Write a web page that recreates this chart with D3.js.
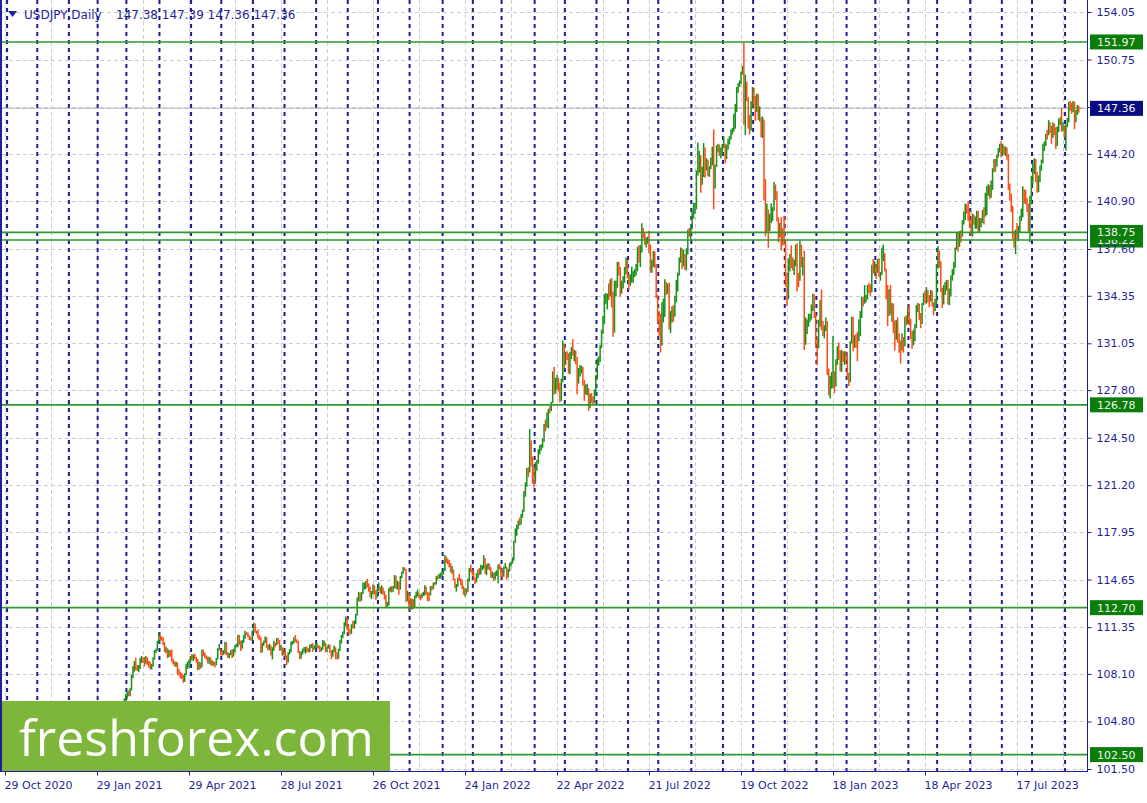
<!DOCTYPE html>
<html><head><meta charset="utf-8">
<script src="https://cdn.jsdelivr.net/npm/d3@7"></script>
<style>body{margin:0;background:#fff}svg{display:block}</style>
</head><body>
<svg id="c" width="1147" height="803"></svg>
<script>
// ---- DATA: daily bars [high, low, close]; open = previous close ----
const firstOpen = 104.30;
const bars2020 = [
[104.70,104.08,104.61],[104.85,104.45,104.66],
[104.95,104.55,104.73],[104.95,104.42,104.52],[105.34,104.15,104.53],[104.60,103.42,103.48],[103.75,103.18,103.35],
[105.65,103.25,105.36],[105.48,104.85,105.29],[105.68,105.12,105.42],[105.50,104.86,105.13],[105.14,104.55,104.62],
[104.89,104.30,104.59],[104.70,104.08,104.19],[104.25,103.65,103.85],[103.95,103.62,103.80],[103.95,103.68,103.85],
[104.64,103.72,104.55],[104.77,104.35,104.44],[104.58,104.28,104.45],[104.48,104.15,104.22],[104.28,103.90,104.08],
[104.40,103.82,104.30],
[104.58,104.20,104.33],[104.52,104.30,104.43],[104.48,103.70,103.87],[104.22,103.80,104.16],
[104.20,103.88,104.03],[104.30,103.95,104.18],[104.48,104.05,104.20],[104.38,103.98,104.26],[104.30,103.92,104.03],
[104.18,103.90,104.05],[104.12,103.58,103.66],[103.78,103.38,103.49],[103.55,102.88,103.07],[103.45,102.95,103.30],
[103.90,103.18,103.32],[103.72,103.25,103.60],[103.80,103.45,103.63],[103.70,103.50,103.62],
[103.90,103.55,103.79],[103.82,103.45,103.52],[103.58,103.12,103.21],[103.35,102.95,103.25]
];
const bars2021 = [
// Jan
[103.30,102.72,103.12],[103.20,102.60,102.71],[103.44,102.59,103.03],[103.95,102.98,103.83],[104.08,103.60,103.94],
[104.40,103.70,104.25],[104.30,103.52,103.76],[103.95,103.60,103.88],[104.00,103.72,103.86],[104.08,103.70,103.86],
[103.90,103.50,103.70],[104.05,103.62,103.87],[103.95,103.48,103.54],[103.75,103.35,103.50],[103.85,103.45,103.77],
[103.85,103.55,103.76],[103.85,103.50,103.61],[104.12,103.58,104.08],[104.30,103.92,104.25],[104.90,104.18,104.68],
// Feb
[105.00,104.60,104.95],[105.08,104.80,105.00],[105.10,104.82,105.03],[105.60,105.00,105.55],[105.76,105.20,105.40],
[105.68,105.20,105.22],[105.30,104.58,104.59],[104.75,104.40,104.58],[105.00,104.52,104.95],[105.00,104.75,104.94],
[105.45,104.90,105.42],[106.22,105.40,105.98],[106.00,105.68,105.85],[105.95,105.55,105.67],[105.78,105.30,105.45],
[105.50,104.92,105.06],[105.40,104.98,105.27],[105.90,105.25,105.87],[106.40,105.85,106.25],[106.70,106.10,106.57],
// Mar
[106.90,106.45,106.77],[106.95,106.55,106.68],[107.10,106.55,107.03],[108.05,106.95,107.96],[108.65,107.80,108.37],
[109.00,108.25,108.91],[109.22,108.35,108.53],[108.70,108.30,108.38],[108.72,108.22,108.51],[109.22,108.45,109.02],
[109.35,108.85,109.13],[109.25,108.85,108.99],[109.28,108.62,108.84],[109.35,108.80,109.13],[109.25,108.72,108.86],
[109.00,108.55,108.81],[108.95,108.42,108.59],[108.80,108.40,108.71],[109.25,108.60,109.21],[109.75,109.10,109.64],
[109.85,109.55,109.78],[110.40,109.70,110.36],[110.97,110.25,110.72],
// Apr
[110.78,110.45,110.63],[110.70,110.40,110.61],
[110.65,110.10,110.19],[110.30,109.62,109.73],[109.98,109.55,109.84],[109.88,109.20,109.27],[109.78,109.25,109.66],
[109.75,109.30,109.39],[109.80,108.95,109.07],[109.15,108.75,108.91],[108.98,108.60,108.77],[108.95,108.60,108.79],
[108.90,108.05,108.16],[108.45,107.98,108.09],[108.25,107.80,108.08],[108.15,107.75,107.96],[108.05,107.48,107.89],
[108.15,107.55,108.12],[108.80,108.00,108.69],[108.95,108.45,108.90],[109.08,108.55,108.92],[109.35,108.82,109.31],
// May
[109.50,109.05,109.11],[109.45,109.00,109.36],[109.50,109.12,109.21],[109.30,108.90,108.97],[109.15,108.35,108.58],
[108.95,108.40,108.81],[108.90,108.45,108.62],[109.80,108.55,109.68],[109.78,109.35,109.47],[109.58,109.20,109.35],
[109.40,109.10,109.23],[109.30,108.82,108.91],[109.30,108.80,109.21],[109.25,108.72,108.77],[109.05,108.65,108.96],
[108.98,108.68,108.77],[108.92,108.55,108.74],[109.22,108.70,109.16],[109.88,109.10,109.82],[110.20,109.75,109.85],
[109.85,109.40,109.55],
// Jun
[109.70,109.35,109.50],[109.75,109.42,109.57],[110.33,109.50,110.28],[110.30,109.40,109.52],
[109.62,109.20,109.25],[109.55,109.20,109.47],[109.75,109.40,109.63],[109.82,109.20,109.33],[109.85,109.30,109.67],
[110.10,109.60,110.05],[110.20,109.95,110.07],[110.82,109.95,110.71],[110.80,110.12,110.22],[110.40,109.70,110.20],
[110.45,109.85,110.31],[110.80,110.25,110.65],[111.10,110.55,110.97],[111.00,110.80,110.88],[110.98,110.65,110.75],
[110.80,110.45,110.62],[110.65,110.40,110.51],[111.12,110.45,111.10],
// Jul
[111.66,111.00,111.53],[111.60,110.95,111.05],
[111.10,110.85,110.95],[111.18,110.55,110.65],[110.80,110.45,110.63],[110.65,109.55,109.78],[110.25,109.60,110.14],
[110.40,110.05,110.33],[110.70,110.25,110.61],[110.65,109.90,109.97],[110.15,109.72,109.84],[110.20,109.75,110.07],
[110.05,109.38,109.44],[109.95,109.10,109.83],[110.40,109.70,110.26],[110.25,109.95,110.16],[110.60,110.10,110.55],
[110.60,110.20,110.39],[110.45,109.70,109.80],[110.10,109.72,109.91],[109.95,109.35,109.48],[109.78,109.40,109.71],
// Aug
[109.75,109.20,109.31],[109.40,108.72,109.04],[109.60,108.90,109.50],[109.82,109.45,109.77],[110.35,109.60,110.24],
[110.40,110.12,110.28],[110.65,110.22,110.58],[110.80,110.32,110.42],[110.50,110.25,110.39],[110.40,109.55,109.59],
[109.70,109.12,109.23],[109.65,109.15,109.59],[109.85,109.45,109.77],[109.95,109.62,109.78],[109.98,109.50,109.78],
[110.00,109.60,109.74],[109.90,109.60,109.68],[110.12,109.60,110.01],[110.18,109.90,110.08],[110.25,109.62,109.84],
[110.08,109.78,109.92],[110.20,109.85,110.02],
// Sep
[110.25,109.90,110.03],[110.10,109.85,109.92],[110.05,109.60,109.72],
[109.95,109.68,109.85],[110.45,109.78,110.26],[110.40,110.00,110.26],[110.25,109.60,109.70],[110.00,109.62,109.93],
[110.15,109.85,110.02],[110.15,109.55,109.69],[109.75,109.12,109.38],[109.80,109.30,109.71],[110.08,109.60,109.94],
[109.95,109.12,109.40],[109.60,109.10,109.24],[109.85,109.15,109.78],[110.45,109.70,110.35],[110.80,110.20,110.74],
[111.05,110.60,110.98],[111.68,110.85,111.50],[112.08,111.40,111.97],[112.00,111.15,111.29],
// Oct
[111.50,110.85,111.05],
[111.20,110.82,110.93],[111.55,110.88,111.44],[111.78,111.25,111.41],[111.82,111.25,111.61],[112.28,111.55,112.24],
[113.40,112.15,113.28],[113.80,113.15,113.60],[113.75,113.10,113.25],[113.78,113.18,113.69],[114.45,113.65,114.22],
[114.45,113.95,114.31],[114.55,114.00,114.35],[114.69,114.10,114.30],[114.38,113.80,113.97],[114.15,113.42,113.48],
[113.85,113.30,113.70],[114.30,113.62,114.14],[114.25,113.62,113.80],[113.90,113.25,113.58],[114.05,113.40,113.96],
// Nov
[114.45,113.85,114.01],[114.15,113.70,113.95],[114.25,113.65,114.09],[114.10,113.60,113.75],[113.85,113.28,113.40],
[113.60,112.75,112.87],[113.10,112.72,112.95],[114.05,112.85,113.93],[114.15,113.80,114.05],[114.20,113.75,113.88],
[114.20,113.80,114.13],[114.97,114.05,114.82],[114.92,114.00,114.08],[114.55,113.95,114.24],[114.50,113.60,114.01],
[114.90,113.95,114.84],[115.20,114.75,115.13],[115.52,115.05,115.39],[115.48,115.25,115.36],[115.35,113.08,113.38],
[113.88,113.15,113.50],[113.70,112.53,113.17],
// Dec
[113.40,112.70,112.79],[113.30,112.55,113.15],[113.30,112.60,112.79],
[113.55,112.75,113.46],[113.80,113.35,113.52],[113.95,113.48,113.66],[113.75,113.35,113.49],[113.60,113.20,113.41],
[113.70,113.35,113.56],[113.80,113.50,113.73],[114.25,113.55,114.06],[114.15,113.60,113.71],[113.80,113.15,113.69],
[113.75,113.15,113.62],[114.20,113.55,114.11],[114.22,113.90,114.08],[114.45,113.98,114.41],[114.48,114.25,114.38],
[114.88,114.30,114.84],[114.95,114.65,114.82],[115.05,114.70,114.98],[115.12,114.72,115.07],[115.20,114.90,115.08]
];
const bars2022 = [
// Jan
[115.45,115.00,115.31],[116.35,115.25,116.13],[116.25,115.80,116.12],[116.12,115.72,115.84],[116.00,115.50,115.57],
[115.80,115.15,115.19],[115.60,115.05,115.31],[115.35,114.60,114.66],[114.72,114.05,114.19],[114.35,113.82,114.19],
[114.80,114.15,114.61],[115.05,114.55,114.59],[114.75,114.25,114.31],[114.65,114.00,114.11],[114.20,113.60,113.68],
[114.05,113.47,113.98],[114.05,113.60,113.87],[114.72,113.80,114.66],[115.45,114.50,115.36],[115.68,115.15,115.26],
[115.35,114.95,115.11],
// Feb
[115.20,114.60,114.69],[114.80,114.35,114.55],[115.10,114.45,114.96],[115.35,114.75,115.24],
[115.45,114.95,115.08],[115.68,115.00,115.56],[115.65,115.30,115.57],[116.34,115.40,116.01],[116.15,115.05,115.43],
[115.70,114.95,115.58],[115.80,115.35,115.69],[115.75,115.30,115.43],[115.50,114.80,114.92],[115.20,114.75,115.02],
[115.10,114.55,114.75],[115.20,114.65,115.03],[115.30,114.90,115.09],[115.70,114.40,115.58],[115.75,115.35,115.55],
[115.50,114.85,114.98],
// Mar
[115.20,114.65,114.93],[115.55,114.85,115.48],[115.80,115.40,115.51],[115.55,114.65,114.83],
[115.40,114.80,115.29],[115.80,115.20,115.71],[115.90,115.55,115.84],[116.20,115.75,116.12],[117.35,115.95,117.30],
[118.20,117.20,118.17],[118.45,117.70,118.29],[118.75,118.15,118.66],[118.95,118.40,118.60],[119.20,118.45,119.16],
[119.50,118.95,119.43],[120.80,119.35,120.53],[121.40,120.40,121.20],[122.40,121.10,122.30],[122.45,121.75,122.08],
[125.10,122.10,123.77],[124.30,122.50,122.90],[123.20,121.30,121.76],[122.45,121.05,121.68],
// Apr
[122.80,121.50,122.50],
[122.95,122.20,122.77],[123.70,122.70,123.59],[124.00,123.35,123.81],[124.05,123.60,123.96],[124.45,123.80,124.33],
[125.45,124.20,125.36],[125.75,124.95,125.35],[126.25,125.20,125.39],[126.50,125.15,126.41],[126.68,126.20,126.40],
[127.00,126.35,126.98],[129.10,126.90,128.89],[129.40,127.50,127.86],[128.65,127.55,128.39],[128.85,127.85,128.51],
[128.65,127.70,128.13],[128.30,126.95,127.24],[128.60,127.05,128.43],[131.25,128.35,130.78],[131.00,129.30,129.70],
// May
[130.30,129.55,130.18],[130.50,129.90,130.14],[130.35,128.95,129.07],[130.45,128.90,130.19],[130.80,129.95,130.56],
[131.35,130.20,130.27],[130.60,129.80,130.46],[130.55,129.60,129.95],[130.10,127.52,128.35],[129.35,128.25,129.18],
[129.55,128.75,129.18],[129.50,128.95,129.36],[129.40,128.10,128.24],[128.50,127.05,127.79],[128.20,127.50,127.88],
[128.25,127.45,127.88],[127.95,126.36,126.84],[127.55,126.55,127.30],[127.60,126.90,127.12],[127.35,126.80,127.09],
[127.85,126.90,127.64],[128.85,127.50,128.73],
// Jun
[130.00,128.60,129.87],[130.15,129.50,129.88],[130.95,129.75,130.87],
[132.00,130.70,131.92],[132.95,131.70,132.62],[134.45,132.40,134.23],[134.55,133.80,134.39],[134.50,133.40,134.40],
[135.20,134.05,134.39],[135.50,134.30,135.46],[135.59,133.55,134.00],[134.65,131.50,132.17],[135.40,131.80,135.02],
[135.40,134.30,135.06],[136.70,134.90,136.65],[136.72,135.75,136.22],[136.35,134.30,134.95],[135.40,134.50,135.22],
[135.70,134.85,135.43],[136.35,135.25,136.13],[137.00,135.85,136.62],[136.85,135.55,135.73],
// Jul
[135.80,134.75,135.21],
[135.85,135.05,135.68],[136.38,135.25,135.89],[136.05,135.25,135.93],[136.20,135.65,136.01],[136.55,135.75,136.10],
[137.75,136.05,137.42],[137.85,136.65,136.86],[137.87,136.35,137.42],[139.39,137.35,138.97],[139.05,138.35,138.55],
[138.70,137.90,138.15],[138.40,137.70,138.20],[138.45,137.95,138.22],[138.88,137.30,137.37],[137.90,135.95,136.08],
[136.85,135.95,136.67],[137.45,136.35,136.90],[137.45,136.30,136.53],[136.55,134.20,134.27],[134.40,132.50,133.23],
// Aug
[133.30,131.58,131.60],[133.10,130.41,131.05],[133.90,130.90,133.23],[134.15,132.50,133.87],[135.50,132.90,135.00],
[135.30,134.40,134.93],[135.20,134.50,135.04],[135.25,132.00,132.90],[133.30,131.75,133.00],[133.60,132.50,133.44],
[133.70,132.55,133.31],[134.35,132.90,134.21],[135.45,133.90,135.14],[135.95,134.65,135.89],[137.00,135.75,136.89],
[137.70,136.65,137.48],[137.65,136.20,136.76],[137.55,136.40,137.11],[137.25,136.15,136.52],[137.65,136.10,137.21],
[138.95,137.35,138.79],[139.05,138.45,138.72],[139.10,138.25,138.96],
// Sep
[140.25,138.95,140.20],[140.80,139.70,140.20],
[140.80,140.05,140.53],[143.05,140.35,142.80],[144.99,142.70,143.76],[144.40,142.90,144.10],[144.05,141.50,142.54],
[143.30,142.05,142.82],[144.95,142.60,144.60],[144.65,142.55,143.17],[143.90,143.05,143.47],[143.80,142.65,142.90],
[143.35,142.60,143.21],[143.95,143.15,143.74],[144.70,143.40,144.10],[145.90,140.35,142.37],[143.45,141.80,143.35],
[144.80,143.30,144.74],[144.90,144.30,144.82],[144.85,144.05,144.16],[144.65,143.90,144.46],[144.85,144.10,144.74],
// Oct
[145.40,144.60,144.83],[144.90,143.55,144.10],[144.85,143.85,144.62],[145.25,144.50,145.10],[145.45,144.85,145.35],
[145.90,145.20,145.73],[146.00,145.55,145.84],[146.98,145.75,146.94],[147.66,145.95,147.23],[148.85,147.10,148.69],
[149.10,148.45,148.98],[149.30,148.85,149.24],[149.90,149.05,149.88],[150.30,149.70,150.15],[151.94,146.23,147.66],
[149.71,145.51,149.01],[149.20,147.85,148.00],[148.15,145.95,146.33],[146.90,145.55,146.31],[147.85,145.80,147.46],
[148.85,147.35,148.71],
// Nov
[148.80,147.60,148.20],[148.25,146.50,147.93],[148.40,147.10,148.27],[148.35,146.55,146.63],
[147.50,146.45,146.63],[146.75,145.35,145.64],[146.80,145.30,146.40],[146.59,140.96,140.99],[142.45,138.47,138.80],
[140.75,138.80,139.93],[140.35,137.68,139.30],[140.05,138.85,139.52],[140.75,139.40,140.22],[140.50,139.55,140.33],
[142.25,140.25,142.08],[142.05,141.00,141.25],[141.60,139.50,139.57],[139.80,138.05,138.62],[139.40,138.40,139.15],
[139.80,137.50,138.89],[139.05,137.85,138.68],[139.90,137.90,138.06],
// Dec
[138.10,135.00,135.28],[135.95,133.63,134.31],
[136.95,134.10,136.73],[137.25,136.05,137.00],[137.85,136.25,136.60],[137.00,136.10,136.56],[136.85,135.80,136.64],
[137.90,136.40,137.73],[138.00,134.65,135.60],[135.95,134.95,135.47],[138.18,135.40,137.77],[137.90,136.35,136.66],
[137.05,135.75,136.88],[137.48,130.58,131.73],[132.85,130.95,132.38],[132.70,131.70,132.47],[133.10,132.20,132.87],
[133.10,132.55,132.90],[133.75,132.70,133.52],[134.50,133.30,134.42],[134.45,132.80,133.07],[133.10,130.95,131.11]
];
const bars2023 = [
// Jan
[131.35,129.52,131.00],[132.70,130.70,132.44],[134.05,132.20,133.40],[134.78,131.95,132.09],
[132.60,131.55,131.88],[132.30,131.40,132.27],[132.85,131.90,132.45],[132.60,128.85,129.16],[129.30,127.45,127.88],
[128.80,127.22,128.52],[129.05,127.90,128.60],[131.58,127.95,128.90],[129.10,127.60,128.41],[129.95,128.05,129.60],
[130.85,129.55,130.68],[131.10,129.90,130.15],[130.55,129.10,129.19],[130.60,129.05,130.24],[130.50,129.75,129.86],
[130.50,129.55,130.35],[130.50,129.80,130.08],
// Feb
[130.20,128.65,128.93],[129.00,128.08,128.62],[131.20,128.35,131.19],
[132.90,131.05,132.62],[132.90,130.50,131.05],[131.60,130.75,131.43],[131.70,130.70,131.38],[131.85,129.80,131.37],
[132.70,131.20,132.40],[133.30,131.55,133.15],[134.30,132.80,134.12],[134.25,133.60,133.97],[135.10,133.80,134.15],
[134.40,133.90,134.25],[135.10,134.10,134.97],[135.25,134.55,134.90],[135.15,134.35,134.67],[136.50,134.60,136.48],
[136.90,135.90,136.21],[136.75,135.95,136.22],
// Mar
[136.55,135.50,136.16],[136.90,135.95,136.77],[136.95,135.65,135.86],
[136.00,135.40,135.90],[137.70,135.80,137.12],[137.91,136.75,137.27],[137.30,136.05,136.11],[136.25,134.10,134.98],
[135.10,132.25,133.21],[134.80,132.95,134.22],[135.10,133.05,133.42],[133.85,132.55,133.71],[133.80,131.75,131.87],
[132.65,130.55,131.32],[132.65,131.30,132.47],[132.85,131.10,131.43],[131.75,130.40,130.86],[131.25,129.64,130.72],
[131.75,130.55,131.47],[131.50,130.40,130.89],[132.90,130.85,132.86],[133.00,132.30,132.70],[133.50,132.40,132.79],
// Apr
[133.75,132.30,132.44],[132.75,131.35,131.72],[131.90,130.65,131.29],[132.00,130.90,131.77],[132.40,131.20,132.15],
[133.70,132.10,133.52],[133.85,133.20,133.69],[133.80,132.65,133.06],[133.15,132.10,132.60],[133.85,132.40,133.80],
[134.55,133.70,134.51],[134.70,133.85,134.10],[134.95,133.80,134.70],[134.75,133.90,134.19],[134.40,133.55,134.12],
[134.75,133.95,134.30],[134.70,133.60,133.71],[133.90,133.00,133.65],[134.15,133.30,133.96],[136.55,133.75,136.29],
// May
[137.78,136.25,137.47],[137.50,136.30,136.57],[136.75,134.60,134.64],[134.90,133.50,134.26],[135.10,133.75,134.81],
[135.30,134.40,135.06],[135.45,134.70,135.20],[135.45,133.75,134.35],[134.85,133.70,134.49],[135.75,134.30,135.74],
[136.20,135.40,136.12],[136.70,135.80,136.37],[137.70,136.30,137.64],[138.75,137.55,138.65],[138.75,137.40,137.96],
[138.85,137.75,138.58],[138.90,138.05,138.55],[139.60,138.45,139.49],[140.20,139.30,140.10],[140.75,139.60,140.60],
[140.70,140.05,140.44],[140.93,139.55,139.79],[140.25,139.05,139.31],
// Jun
[139.65,138.50,138.78],[140.05,138.45,139.95],
[140.00,139.30,139.60],[139.85,139.00,139.60],[140.25,139.00,140.11],[140.25,138.75,139.22],[139.75,138.80,139.37],
[139.75,139.10,139.59],[140.30,139.40,140.24],[140.50,139.30,140.00],[141.50,139.85,140.27],[141.95,139.95,141.82],
[142.10,141.30,141.95],[142.05,141.05,141.46],[142.35,141.15,141.88],[143.20,141.70,143.14],[143.85,142.95,143.70],
[143.85,142.95,143.49],[144.15,143.30,144.05],[144.60,143.95,144.42],[144.90,144.30,144.72],[145.07,143.95,144.30],
// Jul
[144.90,144.10,144.67],[144.75,144.20,144.50],[144.70,144.05,144.61],[144.65,143.80,144.05],[144.20,141.70,142.13],
[142.15,140.95,141.31],[141.45,140.15,140.36],[140.60,138.30,138.48],[138.85,137.70,138.09],[138.95,137.24,138.78],
[139.40,138.30,138.75],[139.20,138.15,139.00],[139.90,138.75,139.60],[140.40,139.55,140.04],[141.95,139.80,141.75],
[141.70,140.75,141.46],[141.70,140.70,140.94],[141.15,140.15,140.31],[140.75,138.80,139.44],[141.30,138.07,141.16],
[142.68,140.70,142.28],
// Aug
[143.55,142.05,143.33],[143.90,142.80,143.36],[143.85,142.25,142.58],[142.95,141.50,141.75],
[142.70,141.55,142.45],[143.40,142.25,143.36],[143.80,143.05,143.77],[144.90,143.55,144.75],[145.05,144.40,144.95],
[145.60,144.75,145.58],[145.85,145.20,145.57],[146.55,145.50,146.35],[146.40,145.65,146.08],[146.15,144.90,145.38],
[146.40,145.30,146.22],[146.30,145.50,145.89],[146.05,144.54,144.83],[146.10,144.75,145.83],[146.65,145.70,146.42],
[146.75,146.20,146.53],[147.37,145.75,145.89],[146.40,145.75,146.17],[146.20,145.35,145.54],
// Sep
[146.25,144.44,146.21],
[146.70,146.05,146.48],[147.80,146.40,147.71],[147.87,147.20,147.67],[147.75,146.98,147.29],[147.87,147.10,147.83],
[147.55,145.91,146.57],[147.25,146.40,147.12],[147.60,146.90,147.45],[147.55,147.05,147.38],[147.39,147.36,147.36]
];
const startDate = "2020-10-29";
const closedDays = ["2020-12-25","2021-01-01","2023-01-02"];
const priceTicks = [154.05,150.75,147.45,144.20,140.90,137.60,134.35,131.05,127.80,124.50,121.20,117.95,114.65,111.35,108.10,104.80,101.50];
const levelLines = [151.97,138.22,138.75,126.78,112.70,102.50];
const symbolTitle = "USDJPY,Daily";
const logoText = "freshforex.com";
const labelStep = 64, gridStep = 32;

// ---- build ----
const bars = [...bars2020, ...bars2021, ...bars2022, ...bars2023];
const n = bars.length;
const opens = bars.map((b,i) => i === 0 ? firstOpen : bars[i-1][2]);
function tradingDays(start, count, skip){
  const out=[]; const d=new Date(start+"T00:00:00Z");
  while(out.length<count){
    const wd=d.getUTCDay(), iso=d.toISOString().slice(0,10);
    if(wd!==0 && wd!==6 && !skip.includes(iso)) out.push(new Date(d));
    d.setUTCDate(d.getUTCDate()+1);
  }
  return out;
}
const dates = tradingDays(startDate, n, closedDays);
const last = bars[n-1];
const currentPrice = last[2];

const NAVY="#1f1f9a", FONT="DejaVu Sans";
const plotRight=1087.5, plotBottom=771.5;
const x = d3.scaleLinear().domain([0, n-1]).range([5, 5 + (n-1)*1.4375]);
const y = d3.scaleLinear().domain([101.50, 154.05]).range([769, 12]);

const svg = d3.select("#c");
svg.append("rect").attr("width",1147).attr("height",803).attr("fill","#fff");

// gray grid
const gridIdx = d3.range(0, n, gridStep);
svg.append("g").selectAll("line").data(gridIdx).join("line")
  .attr("x1",d=>Math.round(x(d))+0.5).attr("x2",d=>Math.round(x(d))+0.5)
  .attr("y1",0).attr("y2",plotBottom)
  .attr("stroke","#cdcdcd").attr("stroke-dasharray","4,3");
svg.append("g").selectAll("line").data(priceTicks).join("line")
  .attr("x1",2).attr("x2",plotRight)
  .attr("y1",d=>Math.round(y(d))+0.5).attr("y2",d=>Math.round(y(d))+0.5)
  .attr("stroke","#cdcdcd").attr("stroke-dasharray","4,3");

// month separators
const sepIdx = d3.range(1, n).filter(i => dates[i].getUTCMonth() !== dates[i-1].getUTCMonth());
svg.append("g").selectAll("line").data(sepIdx).join("line")
  .attr("x1",d=>x(d)-0.8).attr("x2",d=>x(d)-0.8)
  .attr("y1",0).attr("y2",plotBottom)
  .attr("stroke","#1c1c96").attr("stroke-width",2).attr("stroke-dasharray","4,4");

// current price line
svg.append("line").attr("x1",2).attr("x2",plotRight)
  .attr("y1",y(currentPrice)).attr("y2",y(currentPrice))
  .attr("stroke","#bdbdbd").attr("stroke-width",1);

// candles (high-low segments)
svg.append("g").selectAll("line").data(bars).join("line")
  .attr("x1",(d,i)=>x(i)).attr("x2",(d,i)=>x(i))
  .attr("y1",(d,i)=>y(Math.max(d[0],opens[i],d[2])))
  .attr("y2",(d,i)=>Math.max(y(Math.min(d[1],opens[i],d[2])), y(Math.max(d[0],opens[i],d[2]))+1))
  .attr("stroke",(d,i)=> d[2] >= opens[i] ? "#179117" : "#ff4b14")
  .attr("stroke-width",1.5);

// level lines
svg.append("g").selectAll("line").data(levelLines).join("line")
  .attr("x1",2).attr("x2",plotRight)
  .attr("y1",d=>y(d)).attr("y2",d=>y(d))
  .attr("stroke","#2f982f").attr("stroke-width",1.6);

// logo
svg.append("rect").attr("x",2).attr("y",701).attr("width",388).attr("height",71).attr("fill","#7db63a");
svg.append("text").attr("x",19).attr("y",756).text(logoText)
  .attr("font-family","Open Sans").attr("font-size",50).attr("fill","#fff");

// frame
svg.append("line").attr("x1",1).attr("x2",1).attr("y1",0).attr("y2",plotBottom).attr("stroke",NAVY).attr("stroke-width",2);
svg.append("line").attr("x1",plotRight).attr("x2",plotRight).attr("y1",0).attr("y2",plotBottom+0.5).attr("stroke",NAVY);
svg.append("line").attr("x1",0).attr("x2",plotRight).attr("y1",plotBottom).attr("y2",plotBottom).attr("stroke",NAVY);

// level labels drawn under tick labels (138.22 partially hidden, as in the reference)
function levelLabel(v, bg){
  const g = svg.append("g");
  g.append("rect").attr("x",1090).attr("y",y(v)-7.5).attr("width",53).attr("height",15).attr("fill",bg);
  g.append("text").attr("x",1097).attr("y",y(v)).attr("dy","0.36em").text(d3.format(".2f")(v))
    .attr("font-family",FONT).attr("font-size",11).attr("fill","#f2f6ea");
}
levelLabel(138.22, "#0b7d0b");

// y axis
const yAxis = d3.axisRight(y).tickValues(priceTicks).tickFormat(d3.format(".2f")).tickSize(4).tickPadding(5);
const gy = svg.append("g").attr("transform",`translate(${plotRight},0)`).call(yAxis);
gy.select(".domain").remove();
gy.selectAll("line").attr("stroke",NAVY);
gy.selectAll("text").attr("font-family",FONT).attr("font-size",11).attr("fill",NAVY);

// x axis
const labelIdx = d3.range(0, n, labelStep);
const fmt = d3.utcFormat("%-d %b %Y");
const xAxis = d3.axisBottom(x).tickValues(labelIdx).tickFormat(i=>fmt(dates[i])).tickSize(4).tickPadding(6);
const gx = svg.append("g").attr("transform",`translate(0,${plotBottom})`).call(xAxis);
gx.select(".domain").remove();
gx.selectAll("line").attr("stroke",NAVY);
gx.selectAll("text").attr("font-family",FONT).attr("font-size",11).attr("fill",NAVY).attr("text-anchor","start").attr("dx",-1);

// other level labels and current price label
levelLines.filter(v=>v!==138.22).forEach(v=>levelLabel(v, "#0b7d0b"));
levelLabel(currentPrice, "#0a0a82");

// header
svg.append("path").attr("d","M8,11 L17,11 L12.5,17 Z").attr("fill",NAVY);
svg.append("text").attr("x",24).attr("y",19).text(symbolTitle)
  .attr("font-family",FONT).attr("font-size",12).attr("fill",NAVY);
const fmt2 = d3.format(".2f");
svg.append("text").attr("x",116).attr("y",19).attr("xml:space","preserve")
  .text([opens[n-1], last[0], last[1], last[2]].map(fmt2).join(" "))
  .attr("font-family",FONT).attr("font-size",12).attr("fill",NAVY);
</script>
</body></html>
